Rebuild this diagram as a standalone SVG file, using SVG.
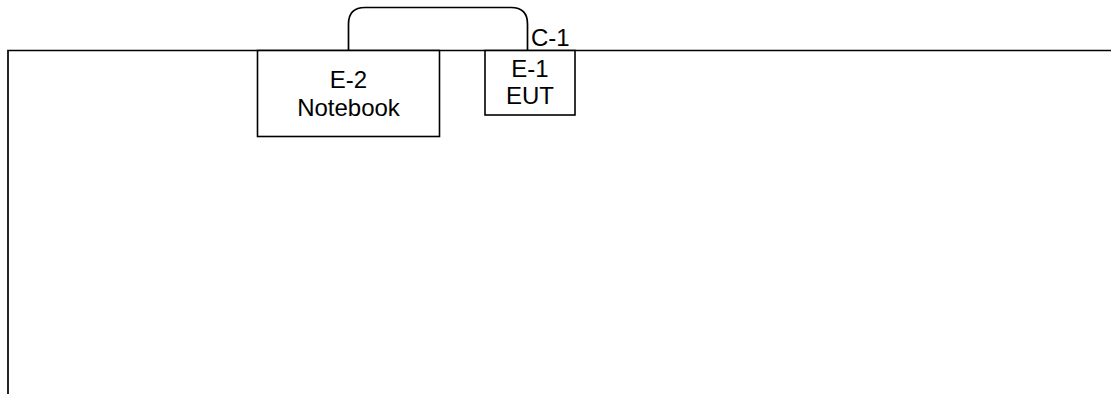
<svg xmlns="http://www.w3.org/2000/svg" width="1111" height="394" viewBox="0 0 1111 394">
<style>
.ln{fill:none;stroke:#000;stroke-width:1.7}
.bx{fill:#fff;stroke:#000;stroke-width:1.6}
.t{font-family:"Liberation Sans",Arial,sans-serif;font-size:24px;fill:#000}
.c{text-anchor:middle}
</style>
<rect width="1111" height="394" fill="#fff"/>
<g id="frame">
<path class="ln" d="M8,394 V50.5 H1111"/>
</g>
<g id="connectors">
<path class="ln" d="M348.5,50.5 V24 Q348.5,7.5 365,7.5 H511 Q527.5,7.5 527.5,24 V50.5"/>
<text class="t" x="531" y="46">C-1</text>
</g>
<g id="E-2">
<rect class="bx" x="257.5" y="50.5" width="182" height="86"/>
<text class="t c" x="348.5" y="87.5">E-2</text>
<text class="t c" x="348.5" y="115.5">Notebook</text>
</g>
<g id="E-1">
<rect class="bx" x="485" y="50.5" width="90" height="64.5"/>
<text class="t c" x="530" y="77">E-1</text>
<text class="t c" x="530" y="104">EUT</text>
</g>
</svg>
